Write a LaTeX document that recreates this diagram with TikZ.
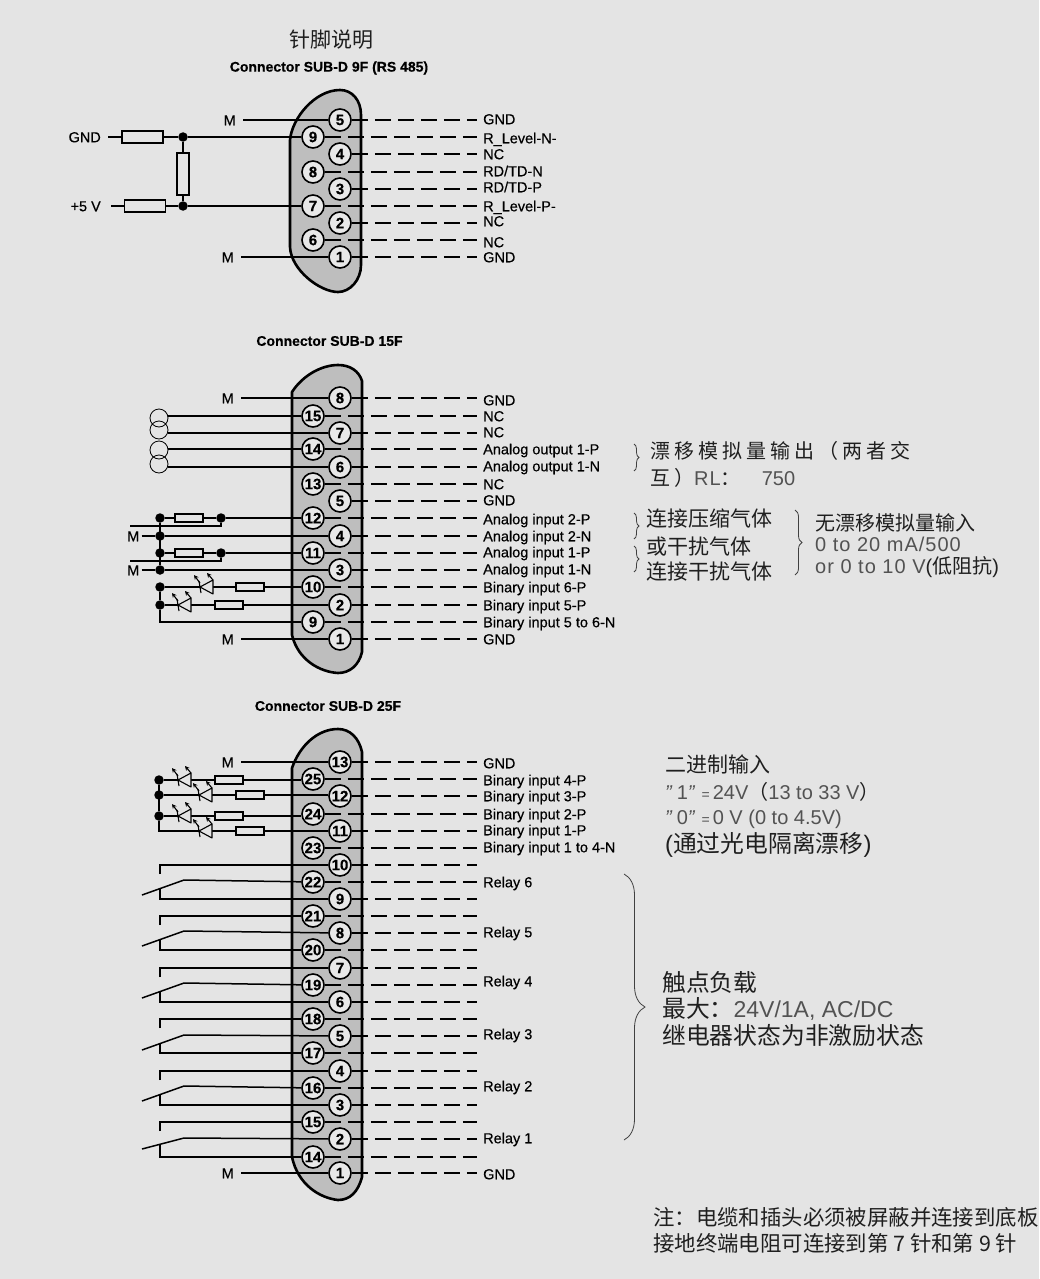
\documentclass[tikz,border=0pt]{standalone}
\usepackage{fontspec}
\usetikzlibrary{arrows.meta,decorations.pathreplacing}
\setmainfont{Liberation Sans}
\newfontfamily\cjk{Noto Sans CJK SC}
\newfontfamily\cjkwide[LetterSpace=20]{Noto Sans CJK SC}
\newfontfamily\lightwide[LetterSpace=5]{Liberation Sans}
\newfontfamily\labelfont[FakeBold=.4]{Liberation Sans}
\newfontfamily\heavyfont[UprightFont=* Bold,FakeBold=.4]{Liberation Sans}
\definecolor{panelgray}{HTML}{E4E4E4}
\definecolor{shellgray}{HTML}{BEBEBE}
\definecolor{pingray}{HTML}{E8E8E8}
\newcommand\thinpart[1]{\textcolor{black!68}{#1}}
\tikzset{
  wire/.style={line width=1.5pt},
  thinwire/.style={line width=1.1pt},
  dashwire/.style={line width=1.5pt,dash pattern=on 16.5pt off 6.5pt},
  shell/.style={line width=2.6pt,fill=shellgray,line join=round},
  pin/.style={circle,draw,line width=1.6pt,fill=pingray,minimum size=22pt,inner sep=0pt,font=\fontsize{15}{15}\selectfont\heavyfont},
  pinlabel/.style={anchor=west,inner xsep=6pt,inner ysep=0pt,text height=10.5pt,text depth=0pt,font=\fontsize{14.5}{15}\selectfont\labelfont},
  leftlabel/.style={anchor=east,inner xsep=7pt,inner ysep=0pt,text height=10.5pt,text depth=0pt,font=\fontsize{14.5}{15}\selectfont\labelfont},
  titlelabel/.style={inner sep=0pt,font=\fontsize{14}{15}\selectfont\heavyfont},
  bigres/.style={rectangle,draw,line width=1.3pt,minimum width=41pt,minimum height=12pt,inner sep=0pt},
  smallres/.style={rectangle,draw,line width=1.3pt,minimum width=28pt,minimum height=8pt,inner sep=0pt},
  joint/.style={circle,fill=black,minimum size=9.5pt,inner sep=0pt},
  loop/.style={circle,draw,line width=.8pt,minimum size=18pt,inner sep=0pt},
  note/.style={anchor=west,inner sep=0pt,text height=14pt,text depth=0pt,text=black!88,font=\fontsize{20}{24}\selectfont},
  notemid/.style={note,text height=15pt,font=\fontsize{21}{24}\selectfont},
  notebig/.style={note,text height=17pt,font=\fontsize{23.8}{24}\selectfont},
  noteend/.style={note,text height=15pt,font=\fontsize{21.4}{24}\selectfont},
  curly/.style={line width=.8pt,black!75,decorate,decoration={brace,amplitude=#1}},
  led/.pic={
    \draw [thinwire,fill=panelgray,line join=round] (0,0) -- (13,-7) -- (13,7) -- cycle;
    \draw [thinwire] (-1,-6) -- (1,6);
    \draw [line width=1.1pt,-{Stealth[length=4.5pt,width=4.5pt]}] (0,-4) -- (-6,-12);
    \draw [line width=1.1pt,-{Stealth[length=4.5pt,width=4.5pt]}] (13,-7) -- (7,-14);
  }
}
\begin{document}
\begin{tikzpicture}[x=1pt,y=-1pt]
\useasboundingbox [fill=panelgray] (0,0) rectangle (1039,1279);
\node [notemid] (tA) at (289,40) {\cjk 针脚说明};
\node [titlelabel] (tB) at (329,68) {Connector SUB-D 9F (RS 485)};
\node [titlelabel] (tC) at (329.5,341) {Connector SUB-D 15F};
\node [titlelabel] (tD) at (328,706) {Connector SUB-D 25F};

\draw [shell] (290,140) .. controls (292,118) and (315,90) .. (340,90) .. controls (352,90) and (361,100) .. (361,115) -- (361,265) .. controls (361,280) and (350,292) .. (338,292) .. controls (320,292) and (291,270) .. (290,247) -- cycle;
\node [pin] (a5) at (340,120) {5};
\node [pin] (a9) at (313,137) {9};
\node [pin] (a4) at (340,154) {4};
\node [pin] (a8) at (313,172) {8};
\node [pin] (a3) at (340,189) {3};
\node [pin] (a7) at (313,206) {7};
\node [pin] (a2) at (340,223) {2};
\node [pin] (a6) at (313,240) {6};
\node [pin] (a1) at (340,257) {1};
\node [pinlabel] (la5) at (477,119) {GND};
\node [pinlabel] (la9) at (477,138) {R\_Level-N-};
\node [pinlabel] (la4) at (477,154) {NC};
\node [pinlabel] (la8) at (477,171) {RD/TD-N};
\node [pinlabel] (la3) at (477,187) {RD/TD-P};
\node [pinlabel] (la7) at (477,206) {R\_Level-P-};
\node [pinlabel] (la2) at (477,221) {NC};
\node [pinlabel] (la6) at (477,242) {NC};
\node [pinlabel] (la1) at (477,257) {GND};
\draw [dashwire] (a5) -- (a5 -| la5.west);
\draw [dashwire] (a9) -- (a9 -| la9.west);
\draw [dashwire] (a4) -- (a4 -| la4.west);
\draw [dashwire] (a8) -- (a8 -| la8.west);
\draw [dashwire] (a3) -- (a3 -| la3.west);
\draw [dashwire] (a7) -- (a7 -| la7.west);
\draw [dashwire] (a2) -- (a2 -| la2.west);
\draw [dashwire] (a6) -- (a6 -| la6.west);
\draw [dashwire] (a1) -- (a1 -| la1.west);
\node [leftlabel] (ma5) at (243,120) {M};
\node [leftlabel] (ma1) at (241,257) {M};
\draw [wire] (ma5) -- (a5);
\draw [wire] (ma1) -- (a1);
\node [leftlabel] (gnd) at (108,137) {GND};
\node [leftlabel,inner xsep=10pt] (plus) at (111,206) {+5 V};
\node [bigres] (ra) at (142.5,137) {};
\node [bigres] (rb) at (145,206) {};
\node [bigres,minimum width=12pt,minimum height=42pt] (rc) at (183,174) {};
\node [joint] (ja) at (183,137) {};
\node [joint] (jb) at (183,206) {};
\draw [wire] (gnd) -- (ra);
\draw [wire] (ra) -- (ja);
\draw [wire] (ja) -- (a9);
\draw [wire] (plus) -- (rb);
\draw [wire] (rb) -- (jb);
\draw [wire] (jb) -- (a7);
\draw [wire] (ja) -- (rc);
\draw [wire] (rc) -- (jb);

\draw [shell] (292,392) .. controls (303,375) and (322,365) .. (338,365) .. controls (350,365) and (359,371) .. (362,381) -- (362,652) .. controls (359,665) and (350,673) .. (338,673) .. controls (320,672) and (298,660) .. (292,635) -- cycle;
\node [pin] (b8) at (340,398) {8};
\node [pin] (b15) at (313,416) {15};
\node [pin] (b7) at (340,433) {7};
\node [pin] (b14) at (313,449) {14};
\node [pin] (b6) at (340,467) {6};
\node [pin] (b13) at (313,484) {13};
\node [pin] (b5) at (340,501) {5};
\node [pin] (b12) at (313,518) {12};
\node [pin] (b4) at (340,536) {4};
\node [pin] (b11) at (313,553) {11};
\node [pin] (b3) at (340,570) {3};
\node [pin] (b10) at (313,587) {10};
\node [pin] (b2) at (340,605) {2};
\node [pin] (b9) at (313,622) {9};
\node [pin] (b1) at (340,639) {1};
\node [pinlabel] (lb8) at (477,400) {GND};
\node [pinlabel] (lb15) at (477,416) {NC};
\node [pinlabel] (lb7) at (477,432) {NC};
\node [pinlabel] (lb14) at (477,449) {Analog output 1-P};
\node [pinlabel] (lb6) at (477,466) {Analog output 1-N};
\node [pinlabel] (lb13) at (477,484) {NC};
\node [pinlabel] (lb5) at (477,500) {GND};
\node [pinlabel] (lb12) at (477,519) {Analog input 2-P};
\node [pinlabel] (lb4) at (477,536) {Analog input 2-N};
\node [pinlabel] (lb11) at (477,552) {Analog input 1-P};
\node [pinlabel] (lb3) at (477,569) {Analog input 1-N};
\node [pinlabel] (lb10) at (477,587) {Binary input 6-P};
\node [pinlabel] (lb2) at (477,605) {Binary input 5-P};
\node [pinlabel] (lb9) at (477,622) {Binary input 5 to 6-N};
\node [pinlabel] (lb1) at (477,639) {GND};
\draw [dashwire] (b8) -- (b8 -| lb8.west);
\draw [dashwire] (b15) -- (b15 -| lb15.west);
\draw [dashwire] (b7) -- (b7 -| lb7.west);
\draw [dashwire] (b14) -- (b14 -| lb14.west);
\draw [dashwire] (b6) -- (b6 -| lb6.west);
\draw [dashwire] (b13) -- (b13 -| lb13.west);
\draw [dashwire] (b5) -- (b5 -| lb5.west);
\draw [dashwire] (b12) -- (b12 -| lb12.west);
\draw [dashwire] (b4) -- (b4 -| lb4.west);
\draw [dashwire] (b11) -- (b11 -| lb11.west);
\draw [dashwire] (b3) -- (b3 -| lb3.west);
\draw [dashwire] (b10) -- (b10 -| lb10.west);
\draw [dashwire] (b2) -- (b2 -| lb2.west);
\draw [dashwire] (b9) -- (b9 -| lb9.west);
\draw [dashwire] (b1) -- (b1 -| lb1.west);
\node [leftlabel] (mb8) at (241,398) {M};
\node [leftlabel] (mb1) at (241,639) {M};
\draw [wire] (mb8) -- (b8);
\draw [wire] (mb1) -- (b1);
\node [loop] (oa) at (159,418) {};
\node [loop] (ob) at (159,430) {};
\node [loop] (oc) at (159,450) {};
\node [loop] (od) at (159,464) {};
\draw [wire] (oa.east |- b15) -- (b15);
\draw [wire] (ob.east |- b7) -- (b7);
\draw [wire] (oc.east |- b14) -- (b14);
\draw [wire] (od.east |- b6) -- (b6);
\node [joint] (ga) at (160,518) {};
\node [joint] (gb) at (160,536) {};
\node [joint] (gc) at (160,553) {};
\node [joint] (gd) at (160,570) {};
\node [joint] (ge) at (160,587) {};
\node [joint] (gf) at (160,605) {};
\node [joint] (ha) at (221,518) {};
\node [joint] (hb) at (221,553) {};
\node [smallres] (rd) at (189,518) {};
\node [smallres] (re) at (189,553) {};
\node [smallres] (rf) at (250,587) {};
\node [smallres] (rg) at (229,605) {};
\coordinate (ua) at (130,526);
\coordinate (ub) at (130,561);
\node [leftlabel,inner xsep=2pt] (mc) at (141.5,536) {M};
\node [leftlabel,inner xsep=2pt] (md) at (141.5,570) {M};
\draw [wire] (ga) -- (gd);
\draw [wire] (ge) -- (gf);
\draw [wire] (gf) |- (b9);
\draw [wire] (ga) -- (rd);
\draw [wire] (rd) -- (ha);
\draw [wire] (ha) -- (b12);
\draw [wire] (gc) -- (re);
\draw [wire] (re) -- (hb);
\draw [wire] (hb) -- (b11);
\draw [thinwire] (ha) |- (ua);
\draw [thinwire] (hb) |- (ub);
\draw [wire] (mc) -- (gb);
\draw [wire] (gb) -- (b4);
\draw [wire] (md) -- (gd);
\draw [wire] (gd) -- (b3);
\draw [wire] (ge) -- (rf);
\draw [wire] (rf) -- (b10);
\draw [wire] (gf) -- (rg);
\draw [wire] (rg) -- (b2);
\pic at (200,587) {led};
\pic at (178,605) {led};

\draw [shell] (292,768) .. controls (300,745) and (318,729) .. (338,729) .. controls (350,729) and (359,738) .. (362,752) -- (362,1177) .. controls (358,1192) and (350,1200) .. (338,1200) .. controls (320,1198) and (298,1185) .. (292,1157) -- cycle;
\node [pin] (c13) at (340,762) {13};
\node [pin] (c25) at (313,779) {25};
\node [pin] (c12) at (340,796) {12};
\node [pin] (c24) at (313,814) {24};
\node [pin] (c11) at (340,831) {11};
\node [pin] (c23) at (313,848) {23};
\node [pin] (c10) at (340,865) {10};
\node [pin] (c22) at (313,882) {22};
\node [pin] (c9) at (340,899) {9};
\node [pin] (c21) at (313,916) {21};
\node [pin] (c8) at (340,933) {8};
\node [pin] (c20) at (313,950) {20};
\node [pin] (c7) at (340,968) {7};
\node [pin] (c19) at (313,985) {19};
\node [pin] (c6) at (340,1002) {6};
\node [pin] (c18) at (313,1019) {18};
\node [pin] (c5) at (340,1036) {5};
\node [pin] (c17) at (313,1053) {17};
\node [pin] (c4) at (340,1071) {4};
\node [pin] (c16) at (313,1088) {16};
\node [pin] (c3) at (340,1105) {3};
\node [pin] (c15) at (313,1122) {15};
\node [pin] (c2) at (340,1139) {2};
\node [pin] (c14) at (313,1157) {14};
\node [pin] (c1) at (340,1173) {1};
\node [pinlabel] (lc13) at (477,763) {GND};
\node [pinlabel] (lc25) at (477,780) {Binary input 4-P};
\node [pinlabel] (lc12) at (477,796) {Binary input 3-P};
\node [pinlabel] (lc24) at (477,814) {Binary input 2-P};
\node [pinlabel] (lc11) at (477,830) {Binary input 1-P};
\node [pinlabel] (lc23) at (477,847) {Binary input 1 to 4-N};
\node [pinlabel] (lc22) at (477,882) {Relay 6};
\node [pinlabel] (lc8) at (477,932) {Relay 5};
\node [pinlabel] (lc19) at (477,981) {Relay 4};
\node [pinlabel] (lc5) at (477,1034) {Relay 3};
\node [pinlabel] (lc16) at (477,1086) {Relay 2};
\node [pinlabel] (lc2) at (477,1138) {Relay 1};
\node [pinlabel] (lc1) at (477,1174) {GND};
\coordinate (lc10) at (477,865);
\coordinate (lc9) at (477,899);
\coordinate (lc21) at (477,916);
\coordinate (lc20) at (477,950);
\coordinate (lc7) at (477,968);
\coordinate (lc6) at (477,1002);
\coordinate (lc18) at (477,1019);
\coordinate (lc17) at (477,1053);
\coordinate (lc4) at (477,1071);
\coordinate (lc3) at (477,1105);
\coordinate (lc15) at (477,1122);
\coordinate (lc14) at (477,1157);
\draw [dashwire] (c13) -- (c13 -| lc13.west);
\draw [dashwire] (c25) -- (c25 -| lc25.west);
\draw [dashwire] (c12) -- (c12 -| lc12.west);
\draw [dashwire] (c24) -- (c24 -| lc24.west);
\draw [dashwire] (c11) -- (c11 -| lc11.west);
\draw [dashwire] (c23) -- (c23 -| lc23.west);
\draw [dashwire] (c10) -- (lc10);
\draw [dashwire] (c22) -- (c22 -| lc22.west);
\draw [dashwire] (c9) -- (lc9);
\draw [dashwire] (c21) -- (lc21);
\draw [dashwire] (c8) -- (c8 -| lc8.west);
\draw [dashwire] (c20) -- (lc20);
\draw [dashwire] (c7) -- (lc7);
\draw [dashwire] (c19) -- (c19 -| lc19.west);
\draw [dashwire] (c6) -- (lc6);
\draw [dashwire] (c18) -- (lc18);
\draw [dashwire] (c5) -- (c5 -| lc5.west);
\draw [dashwire] (c17) -- (lc17);
\draw [dashwire] (c4) -- (lc4);
\draw [dashwire] (c16) -- (c16 -| lc16.west);
\draw [dashwire] (c3) -- (lc3);
\draw [dashwire] (c15) -- (lc15);
\draw [dashwire] (c2) -- (c2 -| lc2.west);
\draw [dashwire] (c14) -- (lc14);
\draw [dashwire] (c1) -- (c1 -| lc1.west);
\node [leftlabel] (mc13) at (241,762) {M};
\node [leftlabel] (mc1) at (241,1173) {M};
\draw [wire] (mc13) -- (c13);
\draw [wire] (mc1) -- (c1);
\node [joint] (ka) at (159,780) {};
\node [joint] (kb) at (159,795) {};
\node [joint] (kc) at (159,816) {};
\node [smallres] (rh) at (229,780) {};
\node [smallres] (ri) at (250,795) {};
\node [smallres] (rj) at (229,816) {};
\node [smallres] (rk) at (250,831) {};
\draw [wire] (ka) -- (kc);
\draw [wire] (kc) |- (rk);
\draw [wire] (ka) -- (rh);
\draw [wire] (rh) -- (rh -| c25.west);
\draw [wire] (kb) -- (ri);
\draw [wire] (ri) -- (ri -| c12.west);
\draw [wire] (kc) -- (rj);
\draw [wire] (rj) -- (rj -| c24.west);
\draw [wire] (rk) -- (c11);
\pic at (178,780) {led};
\pic at (199,795) {led};
\pic at (178,816) {led};
\pic at (199,831) {led};
\coordinate (s6a) at (160,874);
\coordinate (s6b) at (142,895);
\coordinate (s6c) at (184,880);
\coordinate (s6d) at (160,889);
\draw [wire] (s6a) |- (c10);
\draw [wire] (s6b) -- (s6c) -- (c22);
\draw [wire] (s6d) |- (c9);
\coordinate (s5a) at (160,925);
\coordinate (s5b) at (142,946);
\coordinate (s5c) at (184,931);
\coordinate (s5d) at (160,940);
\draw [wire] (s5a) |- (c21);
\draw [wire] (s5b) -- (s5c) -- (c8);
\draw [wire] (s5d) |- (c20);
\coordinate (s4a) at (160,977);
\coordinate (s4b) at (142,998);
\coordinate (s4c) at (184,983);
\coordinate (s4d) at (160,992);
\draw [wire] (s4a) |- (c7);
\draw [wire] (s4b) -- (s4c) -- (c19);
\draw [wire] (s4d) |- (c6);
\coordinate (s3a) at (160,1028);
\coordinate (s3b) at (142,1050);
\coordinate (s3c) at (184,1035);
\coordinate (s3d) at (160,1044);
\draw [wire] (s3a) |- (c18);
\draw [wire] (s3b) -- (s3c) -- (c5);
\draw [wire] (s3d) |- (c17);
\coordinate (s2a) at (160,1080);
\coordinate (s2b) at (142,1101);
\coordinate (s2c) at (184,1086);
\coordinate (s2d) at (160,1094);
\draw [wire] (s2a) |- (c4);
\draw [wire] (s2b) -- (s2c) -- (c16);
\draw [wire] (s2d) |- (c3);
\coordinate (s1a) at (160,1131);
\coordinate (s1b) at (142,1149);
\coordinate (s1c) at (184,1138);
\coordinate (s1d) at (160,1144);
\draw [wire] (s1a) |- (c15);
\draw [wire] (s1b) -- (s1c) -- (c2);
\draw [wire] (s1d) |- (c14);

\draw [curly=5pt] (634,444) -- (634,471);
\node [note] (na) at (650,451) {\cjkwide 漂移模拟量输出（两者交};
\node [note] (nb) at (650,478) {{\cjkwide 互）}\thinpart{\lightwide RL}{\cjkwide ：}\hspace{21pt}\thinpart{750}};
\draw [curly=5pt] (634,513) -- (634,539);
\draw [curly=5pt] (634,546) -- (634,572);
\node [notemid] (nc) at (646,519) {\cjk 连接压缩气体};
\node [notemid] (nd) at (646,547) {\cjk 或干扰气体};
\node [notemid] (ne) at (646,572) {\cjk 连接干扰气体};
\draw [curly=7pt] (795,510) -- (795,575);
\node [note] (nf) at (815,523) {\cjk 无漂移模拟量输入};
\node [note] (ng) at (815,544) {\thinpart{\lightwide 0 to 20 mA/500}};
\node [note] (nh) at (815,566) {\thinpart{\lightwide or 0 to 10 V}({\cjk 低阻抗})};
\node [notemid] (ni) at (665,765) {\cjk 二进制输入};
\node [note] (nj) at (665,792) {\thinpart{{\itshape"}\hspace{5pt}1{\itshape"}\hspace{7pt}{\fontsize{14}{14}\selectfont =}\hspace{3pt}24V}{\cjk （}\thinpart{13 to 33 V}{\cjk ）}};
\node [note] (nk) at (665,817) {\thinpart{{\itshape"}\hspace{5pt}0{\itshape"}\hspace{7pt}{\fontsize{14}{14}\selectfont =}\hspace{3pt}0 V (0 to 4.5V)}};
\node [notebig] (nl) at (665,844) {({\cjk 通过光电隔离漂移})};
\draw [curly=21pt,decoration={aspect=.5}] (624,874) -- (624,1140);
\node [notebig] (nm) at (662,983) {\cjk 触点负载};
\node [notebig] (nn) at (662,1009) {{\cjk 最大：}\thinpart{\fontsize{23}{24}\selectfont 24V/1A, AC/DC}};
\node [notebig] (no) at (662,1036) {\cjk 继电器状态为非激励状态};
\node [noteend] (np) at (653,1218) {\cjk 注：电缆和插头必须被屏蔽并连接到底板};
\node [noteend] (nq) at (653,1244) {\cjk 接地终端电阻可连接到第 7 针和第 9 针};
\end{tikzpicture}
\end{document}
